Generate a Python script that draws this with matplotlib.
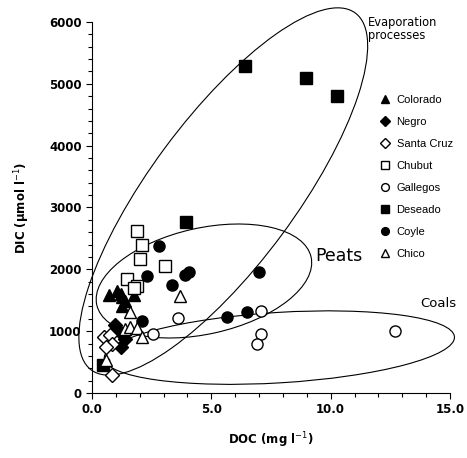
import numpy as np
import matplotlib.pyplot as plt
from matplotlib.patches import Ellipse
from matplotlib.transforms import Affine2D
from matplotlib.ticker import MultipleLocator, FormatStrFormatter

plt.rcParams['font.family'] = ['Liberation Sans', 'DejaVu Sans']

# DOC (mg/l) and DIC (umol/l) per river
colorado_doc = [0.7, 1.05, 1.2, 1.25, 1.75, 1.25, 1.4]
colorado_dic = [1580, 1650, 1600, 1550, 1580, 1400, 1480]
negro_doc = [0.95, 1.15, 1.35, 1.4, 1.2]
negro_dic = [1100, 1000, 950, 880, 750]
santacruz_doc = [0.5, 0.75, 0.85, 0.6, 0.85]
santacruz_dic = [900, 940, 800, 750, 290]
chubut_doc = [1.9, 2.1, 2.0, 3.05, 1.45, 1.9, 1.75]
chubut_dic = [2620, 2390, 2160, 2050, 1840, 1730, 1690]
gallegos_doc = [3.6, 2.55, 7.1, 7.1, 6.9, 12.7]
gallegos_dic = [1220, 950, 1320, 950, 800, 1000]
deseado_doc = [6.4, 8.95, 10.25, 3.95, 0.45]
deseado_dic = [5290, 5100, 4800, 2770, 460]
coyle_doc = [2.8, 2.3, 3.35, 3.9, 4.05, 2.1, 7.0, 5.65, 6.5]
coyle_dic = [2380, 1890, 1750, 1910, 1960, 1160, 1950, 1230, 1310]
chico_doc = [3.7, 1.6, 1.4, 1.6, 1.9, 2.1, 0.6]
chico_dic = [1570, 1310, 1040, 1060, 1050, 910, 530]

series = [
    ('Colorado', colorado_doc, colorado_dic, '^', 'black', 9),
    ('Negro', negro_doc, negro_dic, 'D', 'black', 7),
    ('Santa Cruz', santacruz_doc, santacruz_dic, 'D', 'white', 7),
    ('Chubut', chubut_doc, chubut_dic, 's', 'white', 8),
    ('Gallegos', gallegos_doc, gallegos_dic, 'o', 'white', 8),
    ('Deseado', deseado_doc, deseado_dic, 's', 'black', 8.5),
    ('Coyle', coyle_doc, coyle_dic, 'o', 'black', 8),
    ('Chico', chico_doc, chico_dic, '^', 'white', 8.5),
]

fig = plt.figure(figsize=(4.67, 4.58), dpi=100)
ax = fig.add_axes([0.197, 0.142, 0.7666, 0.810])

for name, x, y, m, fc, ms in series:
    ax.plot(x, y, linestyle='none', marker=m, markerfacecolor=fc,
            markeredgecolor='black', markeredgewidth=1.0, markersize=ms,
            label=name, zorder=3)

# groupings drawn in a space where one DOC unit and 1000/k DIC have equal length
k = 2.59
iso = Affine2D().scale(1, 1000 / k) + ax.transData
groups = [
    ((5.5, 8.44), 18.6, 6.1, 53.5),   # evaporation
    ((4.69, 4.69), 9.2, 4.44, 12.6),  # peats
    ((7.85, 1.9), 14.7, 2.95, 3.5),   # coals
]
for c, w, h, a in groups:
    ax.add_patch(Ellipse(c, w, h, angle=a, fill=False, edgecolor='black',
                         linewidth=0.8, transform=iso, zorder=2, clip_on=False))

ax.text(11.56, 6100, 'Evaporation\nprocesses', family='DejaVu Sans',
        fontsize=8.3, va='top', ha='left', linespacing=1.0)
ax.text(9.34, 2215, 'Peats', family='DejaVu Sans', fontsize=12.5,
        va='center', ha='left')
ax.text(13.74, 1440, 'Coals', family='DejaVu Sans', fontsize=9.5,
        va='center', ha='left')

ax.set_xlim(0, 15)
ax.set_ylim(0, 6000)
ax.xaxis.set_major_locator(MultipleLocator(5))
ax.xaxis.set_minor_locator(MultipleLocator(1))
ax.xaxis.set_major_formatter(FormatStrFormatter('%.1f'))
ax.yaxis.set_major_locator(MultipleLocator(1000))
ax.yaxis.set_minor_locator(MultipleLocator(200))
ax.spines['top'].set_visible(False)
ax.spines['right'].set_visible(False)
for s in ('left', 'bottom'):
    ax.spines[s].set_linewidth(0.8)
ax.tick_params(which='major', direction='out', length=4, width=0.8,
               labelsize=8.5)
ax.tick_params(which='minor', direction='out', length=3, width=0.8)
for lbl in ax.get_xticklabels() + ax.get_yticklabels():
    lbl.set_fontweight('bold')
    lbl.set_family('DejaVu Sans')

ax.set_xlabel('DOC (mg l$^{-1}$)', family='DejaVu Sans', fontsize=8.5,
              fontweight='bold', labelpad=10)
ax.set_ylabel('DIC (\u00b5mol l$^{-1}$)', family='DejaVu Sans', fontsize=8.5,
              fontweight='bold', labelpad=12)

ax.legend(loc='upper left', bbox_to_anchor=(0.795, 0.815), frameon=False,
          fontsize=8, markerscale=0.7, handlelength=0.8, handletextpad=0.6,
          labelspacing=1.08, borderaxespad=0)

fig.savefig('out.png', dpi=100)
